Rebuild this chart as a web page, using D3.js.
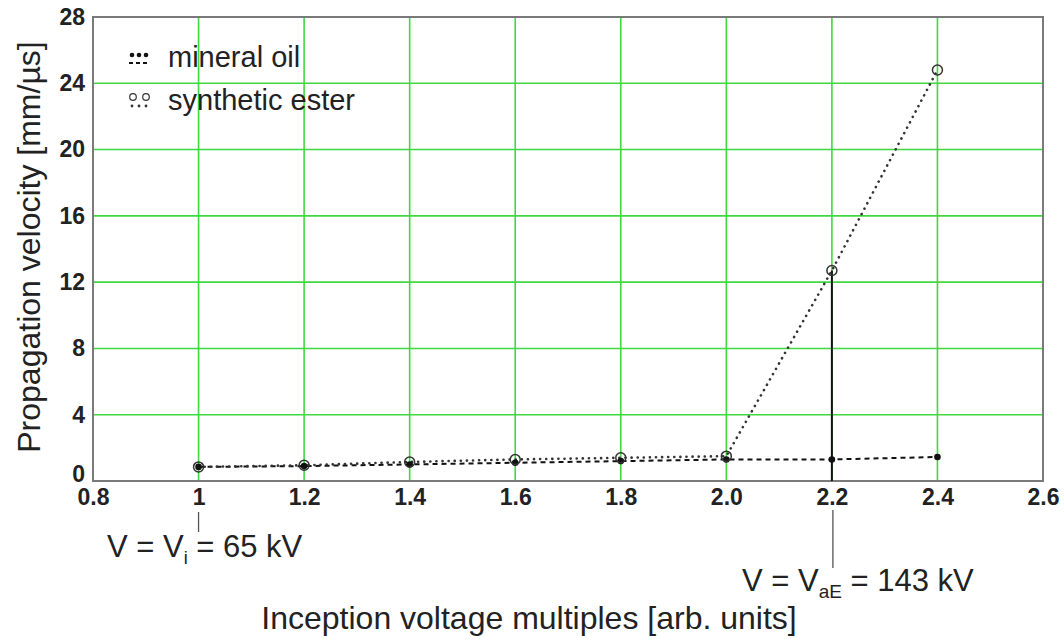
<!DOCTYPE html>
<html>
<head>
<meta charset="utf-8">
<script src="https://cdn.jsdelivr.net/npm/d3@7"></script>
<style>
  html, body { margin: 0; padding: 0; background: #fff; }
  svg { display: block; }
  text { font-family: "Liberation Sans", Arial, sans-serif; fill: #222; }
</style>
</head>
<body>
<svg id="chart" width="1064" height="639"></svg>
<script>
// Inception voltage multiples (x) and propagation velocity (mm/µs)
const voltageMultiples = [1.0, 1.2, 1.4, 1.6, 1.8, 2.0, 2.2, 2.4];
const mineralOil      = [0.85, 0.9, 1.0, 1.1, 1.2, 1.3, 1.3, 1.45];
const syntheticEster  = [0.85, 0.95, 1.15, 1.3, 1.4, 1.5, 12.7, 24.8];

const xTicks = [0.8, 1.0, 1.2, 1.4, 1.6, 1.8, 2.0, 2.2, 2.4, 2.6];
const xTickLabels = ["0.8", "1", "1.2", "1.4", "1.6", "1.8", "2.0", "2.2", "2.4", "2.6"];
const yTicks = [0, 4, 8, 12, 16, 20, 24, 28];

const seriesNames = ["mineral oil", "synthetic ester"];

const svg = d3.select("#chart");
const margin = { left: 93, top: 17, right: 1043, bottom: 481 };

const x = d3.scaleLinear().domain([0.8, 2.6]).range([margin.left, margin.right]);
const y = d3.scaleLinear().domain([0, 28]).range([margin.bottom, margin.top]);

// grid
const grid = svg.append("g");
grid.selectAll("line.v").data(xTicks.slice(1, -1)).join("line")
  .attr("x1", d => x(d)).attr("x2", d => x(d))
  .attr("y1", y(28)).attr("y2", y(0))
  .attr("stroke", "#3fd83f").attr("stroke-width", 1.6);
grid.selectAll("line.h").data(yTicks.slice(1, -1)).join("line")
  .attr("x1", x(0.8)).attr("x2", x(2.6))
  .attr("y1", d => y(d)).attr("y2", d => y(d))
  .attr("stroke", "#3fd83f").attr("stroke-width", 1.6);

// frame
svg.append("rect")
  .attr("x", x(0.8)).attr("y", y(28))
  .attr("width", x(2.6) - x(0.8)).attr("height", y(0) - y(28))
  .attr("fill", "none").attr("stroke", "#7a7a7a").attr("stroke-width", 2);

// axes
const xAxis = d3.axisBottom(x).tickValues(xTicks)
  .tickFormat((d, i) => xTickLabels[i]).tickSize(0).tickPadding(6);
const gx = svg.append("g").attr("transform", `translate(0,${y(0)})`).call(xAxis);
gx.select(".domain").remove();
gx.selectAll("text").attr("font-size", 23).attr("font-weight", "bold")
  .attr("fill", "#222").attr("dy", "0.8em")
  .style("font-family", "'Liberation Sans', Arial, sans-serif");

const yAxis = d3.axisLeft(y).tickValues(yTicks).tickSize(0).tickPadding(8);
const gy = svg.append("g").attr("transform", `translate(${x(0.8)},0)`).call(yAxis);
gy.select(".domain").remove();
gy.selectAll("text").attr("font-size", 23).attr("font-weight", "bold")
  .attr("fill", "#222")
  .style("font-family", "'Liberation Sans', Arial, sans-serif");
gy.selectAll(".tick").filter(d => d === 0).select("text").attr("dy", "0.0em");

// axis titles
svg.append("text")
  .attr("x", 529).attr("y", 629)
  .attr("text-anchor", "middle").attr("font-size", 32)
  .text("Inception voltage multiples [arb. units]");
svg.append("text")
  .attr("transform", `translate(40,247) rotate(-90)`)
  .attr("text-anchor", "middle").attr("font-size", 32)
  .text("Propagation velocity [mm/µs]");

// vertical marker at V_aE
svg.append("line")
  .attr("x1", x(2.2)).attr("x2", x(2.2))
  .attr("y1", y(syntheticEster[6])).attr("y2", y(0))
  .attr("stroke", "#111").attr("stroke-width", 2);
svg.append("line")
  .attr("x1", x(2.2) + 1).attr("x2", x(2.2) + 1)
  .attr("y1", 510).attr("y2", 568)
  .attr("stroke", "#555").attr("stroke-width", 1.3);
svg.append("line")
  .attr("x1", x(1.0)).attr("x2", x(1.0))
  .attr("y1", 512).attr("y2", 532)
  .attr("stroke", "#555").attr("stroke-width", 1.3);

// annotations
const a1 = svg.append("text").attr("x", 107).attr("y", 557).attr("font-size", 31);
a1.append("tspan").text("V = V");
a1.append("tspan").attr("font-size", 18).attr("dy", 7).text("i");
a1.append("tspan").attr("dy", -7).text(" = 65 kV");

const a2 = svg.append("text").attr("x", 742).attr("y", 591).attr("font-size", 31);
a2.append("tspan").text("V = V");
a2.append("tspan").attr("font-size", 19).attr("dy", 7).text("aE");
a2.append("tspan").attr("dy", -7).text(" = 143 kV");

// series
const line = d3.line().x((d, i) => x(voltageMultiples[i])).y(d => y(d));

svg.append("path").datum(mineralOil)
  .attr("d", line).attr("fill", "none")
  .attr("stroke", "#111").attr("stroke-width", 2)
  .attr("stroke-dasharray", "5,4");
svg.append("path").datum(syntheticEster)
  .attr("d", line).attr("fill", "none")
  .attr("stroke", "#333").attr("stroke-width", 2.6)
  .attr("stroke-linecap", "round")
  .attr("stroke-dasharray", "0.1,6");

svg.selectAll("circle.mo").data(mineralOil).join("circle")
  .attr("cx", (d, i) => x(voltageMultiples[i])).attr("cy", d => y(d))
  .attr("r", 3.3).attr("fill", "#111");
svg.selectAll("circle.se").data(syntheticEster).join("circle")
  .attr("cx", (d, i) => x(voltageMultiples[i])).attr("cy", d => y(d))
  .attr("r", 5).attr("fill", "none").attr("stroke", "#333").attr("stroke-width", 1.5);

// legend
const legend = svg.append("g");
const lx = 132;
// mineral oil symbol: dots above dashes
[0, 7, 14].forEach(dx => {
  legend.append("circle").attr("cx", lx + dx).attr("cy", 55).attr("r", 2.3).attr("fill", "#111");
});
legend.append("line").attr("x1", lx - 3).attr("x2", lx + 18).attr("y1", 63).attr("y2", 63)
  .attr("stroke", "#111").attr("stroke-width", 1.8).attr("stroke-dasharray", "4,3");
legend.append("text").attr("x", 168).attr("y", 67).attr("font-size", 29).text(seriesNames[0]);

// synthetic ester symbol: open circles above dots
[0, 13].forEach(dx => {
  legend.append("circle").attr("cx", lx + 1 + dx).attr("cy", 97).attr("r", 3.3)
    .attr("fill", "none").attr("stroke", "#333").attr("stroke-width", 1.2);
});
[0, 7, 14].forEach(dx => {
  legend.append("circle").attr("cx", lx + dx).attr("cy", 106).attr("r", 1.4).attr("fill", "#333");
});
legend.append("text").attr("x", 168).attr("y", 110).attr("font-size", 29).text(seriesNames[1]);
</script>
</body>
</html>
